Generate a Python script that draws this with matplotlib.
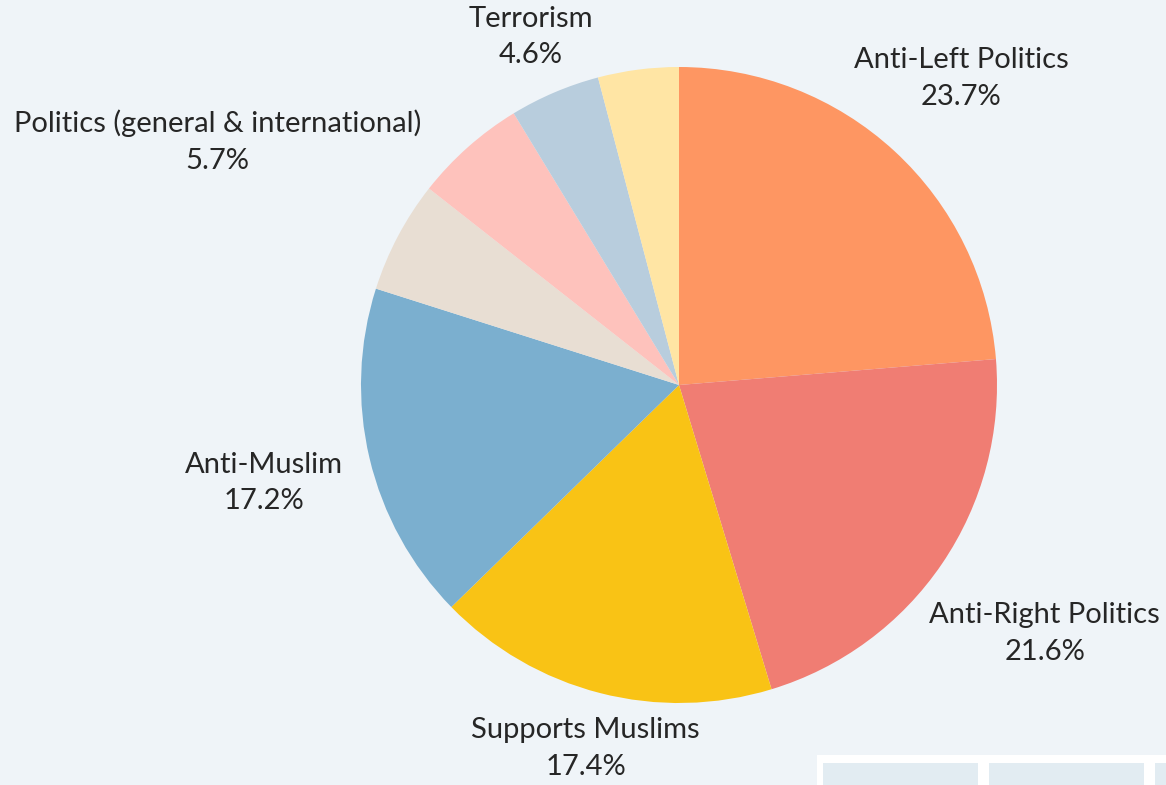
import numpy as np
import matplotlib.pyplot as plt
from matplotlib.patches import Rectangle

plt.rcParams['font.family'] = ['Lato', 'DejaVu Sans']

# Topic shares, clockwise from 12 o'clock
topics = ['Anti-Left Politics', 'Anti-Right Politics', 'Supports Muslims', 'Anti-Muslim',
          '', 'Politics (general & international)', 'Terrorism', '']
shares = [23.7, 21.6, 17.4, 17.2, 5.7, 5.7, 4.6, 4.1]
colors = ['#FE9662', '#F07D73', '#F9C315', '#7BAFCF',
          '#E8DED3', '#FEC2BC', '#B8CDDD', '#FFE5A4']

# distance of each label from the centre, in pie radii, plus angle tweak (deg)
label_dist = [1.31, 1.39, 1.18, 1.34, 0, 1.64, 1.19, 0]
label_turn = [0, 0, 0, 0, 0, 20.6, 0, 0]

bg = '#EFF4F8'
fig = plt.figure(figsize=(11.66, 7.85), dpi=100, facecolor=bg)
ax = fig.add_axes([0, 0, 1, 1])
ax.set_facecolor(bg)

cx, cy, R = 679, 400, 318
wedges, _ = ax.pie(shares, colors=colors, startangle=90, counterclock=False,
                   center=(cx, cy), radius=R, frame=True,
                   wedgeprops=dict(linewidth=0))
ax.set_xlim(0, 1166)
ax.set_ylim(0, 785)
ax.set_aspect('equal')
ax.axis('off')

for w, name, val, d, t in zip(wedges, topics, shares, label_dist, label_turn):
    if not name:
        continue
    mid = np.deg2rad((w.theta1 + w.theta2) / 2 + t)
    x = cx + d * R * np.cos(mid)
    y = cy + d * R * np.sin(mid)
    ax.text(x, y, f'{name}\n{val}%', ha='center', va='center',
            fontsize=21, color='#262626', linespacing=1.5)

# edge of the table below the chart
ax.add_patch(Rectangle((817, 0), 349, 30, facecolor='white', edgecolor='none'))
for x0 in (823, 989, 1155):
    ax.add_patch(Rectangle((x0, 0), 155, 22, facecolor='#E2ECF2', edgecolor='none'))

fig.savefig('out.png', dpi=100, facecolor=bg)
